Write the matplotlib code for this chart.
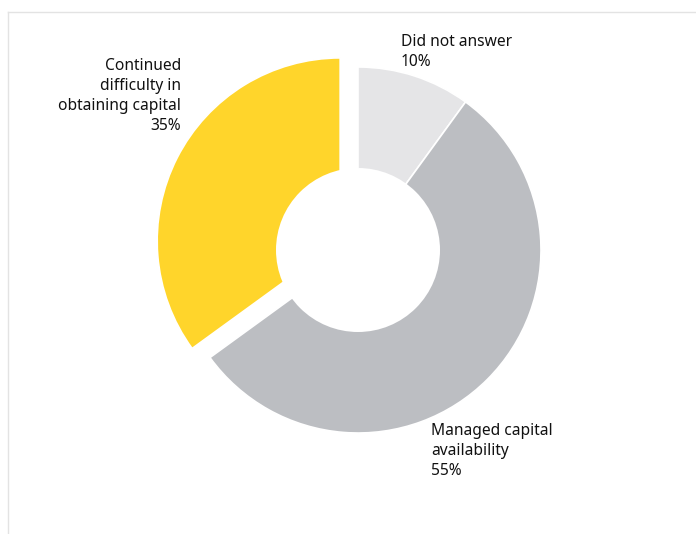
import numpy as np
import matplotlib
matplotlib.use('Agg')
import matplotlib.pyplot as plt
from matplotlib.patches import Circle

# ---- data ----------------------------------------------------------------
labels  = ["Did not answer", "Managed capital\navailability",
           "Continued\ndifficulty in\nobtaining capital"]
shares  = [10, 55, 35]
colors  = ["#e5e5e7", "#bcbec2", "#ffd52b"]
explode = [0, 0, 20]

# ---- canvas in pixel units (y up) ----------------------------------------
W, H = 696, 534
fig = plt.figure(figsize=(W / 100, H / 100), dpi=100)
ax = fig.add_axes([0, 0, 1, 1])

cx, cy = 358, H - 250
R_out, R_in = 183, 82

ax.pie(shares, colors=colors, explode=explode, startangle=90,
       counterclock=False, radius=R_out, center=(cx, cy), frame=True,
       wedgeprops=dict(edgecolor='white', linewidth=1.2))
# donut hole
ax.add_patch(Circle((cx, cy), R_in, facecolor='white', edgecolor='none',
                    zorder=5))
ax.set_xlim(0, W)
ax.set_ylim(0, H)
ax.set_aspect('equal')
ax.axis('off')

# frame lines
ax.plot([8, W], [H - 12, H - 12], color='#e3e3e3', lw=1, zorder=1)
ax.plot([8, 8], [0, H - 12], color='#e3e3e3', lw=1, zorder=1)

font = dict(family='Noto Sans', fontsize=11.2, color='#111111',
            linespacing=1.32)
ax.text(181, H - 58, f"{labels[2]}\n{shares[2]}%", ha='right', va='top',
        **font)
ax.text(401, H - 34, f"{labels[0]}\n{shares[0]}%", ha='left', va='top',
        **font)
ax.text(431, H - 423, f"{labels[1]}\n{shares[1]}%", ha='left', va='top',
        **font)

fig.savefig('out.png', dpi=100)
